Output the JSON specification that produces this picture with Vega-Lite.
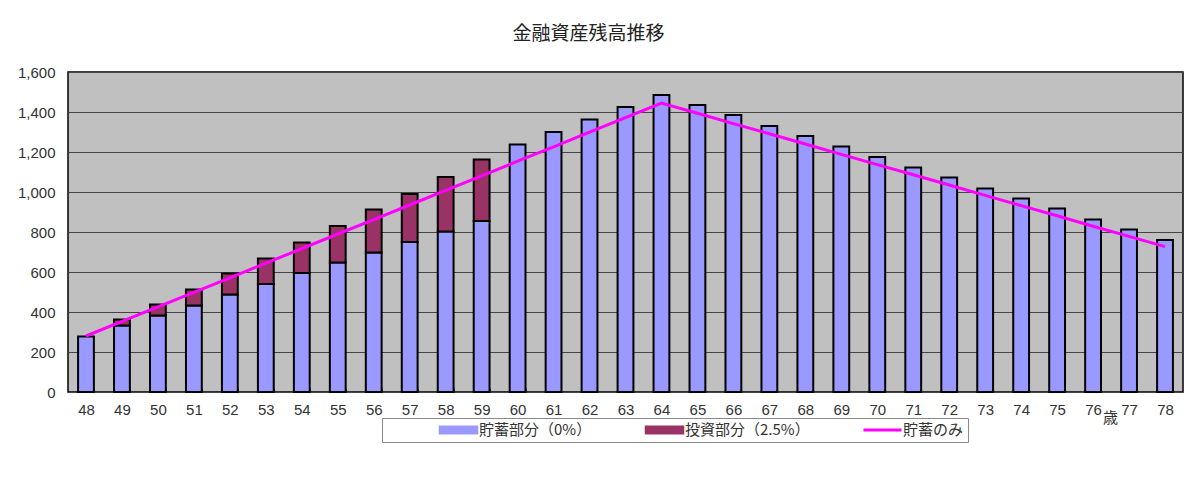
{
  "$schema": "https://vega.github.io/schema/vega-lite/v6.json",
  "width": 1115,
  "height": 320,
  "autosize": {"type": "none"},
  "padding": {"left": 68, "top": 72, "right": 17, "bottom": 85},
  "background": "white",
  "title": {
    "text": "金融資産残高推移",
    "font": "Noto Sans CJK JP",
    "fontSize": 19,
    "fontWeight": "normal",
    "color": "#222222",
    "anchor": "middle",
    "frame": "group",
    "baseline": "alphabetic",
    "offset": 30,
    "dx": -37,
    "dy": 24
  },
  "datasets": {
    "bars": [
      {"age": 48, "series": "貯蓄部分（0%）", "value": 278},
      {"age": 49, "series": "貯蓄部分（0%）", "value": 332},
      {"age": 50, "series": "貯蓄部分（0%）", "value": 382},
      {"age": 51, "series": "貯蓄部分（0%）", "value": 432},
      {"age": 52, "series": "貯蓄部分（0%）", "value": 487},
      {"age": 53, "series": "貯蓄部分（0%）", "value": 540},
      {"age": 54, "series": "貯蓄部分（0%）", "value": 595},
      {"age": 55, "series": "貯蓄部分（0%）", "value": 647},
      {"age": 56, "series": "貯蓄部分（0%）", "value": 697},
      {"age": 57, "series": "貯蓄部分（0%）", "value": 750},
      {"age": 58, "series": "貯蓄部分（0%）", "value": 802},
      {"age": 59, "series": "貯蓄部分（0%）", "value": 855},
      {"age": 60, "series": "貯蓄部分（0%）", "value": 1238},
      {"age": 61, "series": "貯蓄部分（0%）", "value": 1300},
      {"age": 62, "series": "貯蓄部分（0%）", "value": 1363},
      {"age": 63, "series": "貯蓄部分（0%）", "value": 1425},
      {"age": 64, "series": "貯蓄部分（0%）", "value": 1485},
      {"age": 65, "series": "貯蓄部分（0%）", "value": 1435},
      {"age": 66, "series": "貯蓄部分（0%）", "value": 1385},
      {"age": 67, "series": "貯蓄部分（0%）", "value": 1330},
      {"age": 68, "series": "貯蓄部分（0%）", "value": 1280},
      {"age": 69, "series": "貯蓄部分（0%）", "value": 1227},
      {"age": 70, "series": "貯蓄部分（0%）", "value": 1175},
      {"age": 71, "series": "貯蓄部分（0%）", "value": 1122},
      {"age": 72, "series": "貯蓄部分（0%）", "value": 1072},
      {"age": 73, "series": "貯蓄部分（0%）", "value": 1018},
      {"age": 74, "series": "貯蓄部分（0%）", "value": 968},
      {"age": 75, "series": "貯蓄部分（0%）", "value": 917},
      {"age": 76, "series": "貯蓄部分（0%）", "value": 863},
      {"age": 77, "series": "貯蓄部分（0%）", "value": 813},
      {"age": 78, "series": "貯蓄部分（0%）", "value": 760},
      {"age": 49, "series": "投資部分（2.5%）", "value": 31},
      {"age": 50, "series": "投資部分（2.5%）", "value": 56},
      {"age": 51, "series": "投資部分（2.5%）", "value": 81},
      {"age": 52, "series": "投資部分（2.5%）", "value": 105},
      {"age": 53, "series": "投資部分（2.5%）", "value": 128},
      {"age": 54, "series": "投資部分（2.5%）", "value": 152},
      {"age": 55, "series": "投資部分（2.5%）", "value": 183},
      {"age": 56, "series": "投資部分（2.5%）", "value": 216},
      {"age": 57, "series": "投資部分（2.5%）", "value": 240},
      {"age": 58, "series": "投資部分（2.5%）", "value": 273},
      {"age": 59, "series": "投資部分（2.5%）", "value": 307}
    ],
    "line": [
      {"age": 48, "series": "貯蓄のみ", "value": 280},
      {"age": 49, "series": "貯蓄のみ", "value": 353},
      {"age": 50, "series": "貯蓄のみ", "value": 426},
      {"age": 51, "series": "貯蓄のみ", "value": 498},
      {"age": 52, "series": "貯蓄のみ", "value": 571},
      {"age": 53, "series": "貯蓄のみ", "value": 644},
      {"age": 54, "series": "貯蓄のみ", "value": 717},
      {"age": 55, "series": "貯蓄のみ", "value": 790},
      {"age": 56, "series": "貯蓄のみ", "value": 862},
      {"age": 57, "series": "貯蓄のみ", "value": 935},
      {"age": 58, "series": "貯蓄のみ", "value": 1008},
      {"age": 59, "series": "貯蓄のみ", "value": 1081},
      {"age": 60, "series": "貯蓄のみ", "value": 1154},
      {"age": 61, "series": "貯蓄のみ", "value": 1226},
      {"age": 62, "series": "貯蓄のみ", "value": 1299},
      {"age": 63, "series": "貯蓄のみ", "value": 1372},
      {"age": 64, "series": "貯蓄のみ", "value": 1445},
      {"age": 65, "series": "貯蓄のみ", "value": 1394},
      {"age": 66, "series": "貯蓄のみ", "value": 1342},
      {"age": 67, "series": "貯蓄のみ", "value": 1291},
      {"age": 68, "series": "貯蓄のみ", "value": 1240},
      {"age": 69, "series": "貯蓄のみ", "value": 1188},
      {"age": 70, "series": "貯蓄のみ", "value": 1137},
      {"age": 71, "series": "貯蓄のみ", "value": 1086},
      {"age": 72, "series": "貯蓄のみ", "value": 1035},
      {"age": 73, "series": "貯蓄のみ", "value": 983},
      {"age": 74, "series": "貯蓄のみ", "value": 932},
      {"age": 75, "series": "貯蓄のみ", "value": 881},
      {"age": 76, "series": "貯蓄のみ", "value": 829},
      {"age": 77, "series": "貯蓄のみ", "value": 778},
      {"age": 78, "series": "貯蓄のみ", "value": 727}
    ]
  },
  "config": {
    "view": {"fill": "#c0c0c0", "stroke": "#000000", "strokeWidth": 1.5},
    "font": "Liberation Sans"
  },
  "encoding": {
    "x": {
      "field": "age",
      "type": "ordinal",
      "scale": {"paddingInner": 0.56, "paddingOuter": 0.28},
      "axis": {
        "title": "歳",
        "titleX": 1042,
        "titleY": 25,
        "titleAngle": 0,
        "titleAlign": "center",
        "titleBaseline": "middle",
        "titleFont": "Noto Sans CJK JP",
        "titleFontSize": 15,
        "titleFontWeight": "normal",
        "titleColor": "#333333",
        "labelAngle": 0,
        "labelFontSize": 15,
        "labelColor": "#333333",
        "labelPadding": 14,
        "domain": false,
        "ticks": true,
        "tickBand": "extent",
        "tickSize": -4,
        "tickColor": "#333333",
        "grid": false
      }
    },
    "y": {
      "field": "value",
      "type": "quantitative",
      "scale": {"domain": [0, 1600], "nice": false},
      "axis": {
        "title": null,
        "values": [0, 200, 400, 600, 800, 1000, 1200, 1400, 1600],
        "format": ",d",
        "labelFontSize": 15,
        "labelColor": "#333333",
        "labelPadding": 13,
        "labelOverlap": false,
        "ticks": false,
        "domain": false,
        "grid": true,
        "gridColor": "#444444",
        "gridWidth": 1.2
      }
    },
    "color": {
      "field": "series",
      "type": "nominal",
      "scale": {
        "domain": ["貯蓄部分（0%）", "投資部分（2.5%）", "貯蓄のみ"],
        "range": ["#9999ff", "#993366", "#ff00ff"]
      },
      "legend": {
        "title": null,
        "orient": "none",
        "legendX": 314,
        "legendY": 346,
        "direction": "horizontal",
        "strokeColor": "#888888",
        "fillColor": "#ffffff",
        "padding": 4,
        "columnPadding": 0,
        "symbolSize": 1444,
        "symbolOffset": 65,
        "clipHeight": 16,
        "labelFont": "Noto Sans CJK JP",
        "labelFontSize": 15,
        "labelColor": "#333333",
        "labelOffset": 13,
        "labelLimit": 300,
        "encode": {
          "symbols": {
            "update": {
              "shape": {"signal": "datum.value === '貯蓄のみ' ? 'M-1,0H1' : 'M-1,-0.2H1V0.2H-1Z'"},
              "stroke": {"signal": "datum.value === '貯蓄のみ' ? '#ff00ff' : '#000000'"},
              "strokeWidth": {"signal": "datum.value === '貯蓄のみ' ? 3 : 1.5"}
            }
          }
        }
      }
    }
  },
  "layer": [
    {
      "data": {"name": "bars"},
      "mark": {"type": "bar", "stroke": "#000000", "strokeWidth": 2},
      "encoding": {
        "order": {"field": "series", "sort": "descending"}
      }
    },
    {
      "data": {"name": "line"},
      "mark": {"type": "line", "strokeWidth": 3},
      "encoding": {}
    }
  ]
}
